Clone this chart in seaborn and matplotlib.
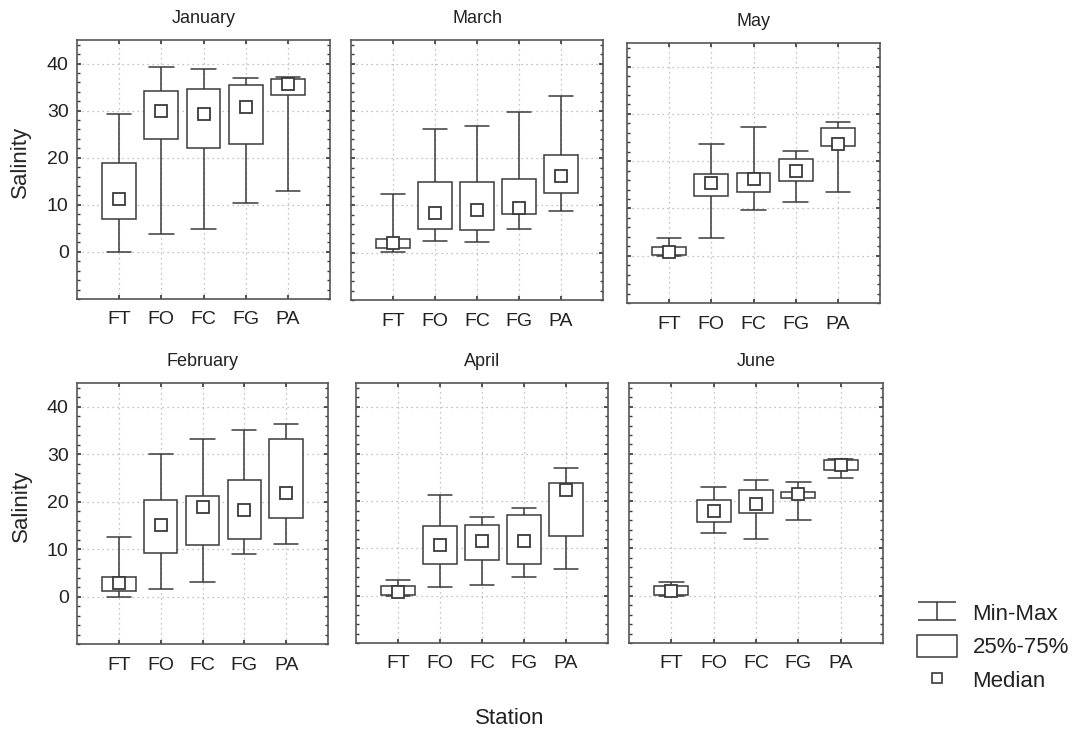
import numpy as np
import pandas as pd
import matplotlib
matplotlib.use("Agg")
import matplotlib.pyplot as plt
import seaborn as sns
from matplotlib.path import Path
from matplotlib.lines import Line2D
from matplotlib.patches import Patch
from matplotlib.ticker import MultipleLocator

# stations on the x axis
stations = ["FT", "FO", "FC", "FG", "PA"]

# five-number summary per station: (min, q25, median, q75, max)
january = [(0.0, 6.9, 11.2, 18.8, 29.2), (3.7, 23.9, 29.9, 34.1, 39.2),
           (4.9, 22.1, 29.3, 34.7, 38.9), (10.3, 22.9, 30.8, 35.4, 37.0),
           (13.0, 33.4, 35.7, 36.7, 37.2)]
march = [(0.2, 1.0, 2.0, 3.0, 12.4), (2.4, 5.0, 8.3, 14.9, 26.1),
         (2.3, 4.8, 9.0, 15.0, 26.8), (5.0, 8.1, 9.4, 15.7, 29.8),
         (8.9, 12.7, 16.3, 20.7, 33.1)]
may = [(0.0, 0.2, 0.8, 1.9, 3.8), (3.7, 12.7, 15.4, 17.3, 23.6),
       (9.6, 13.5, 16.3, 17.6, 27.2), (11.3, 15.8, 18.0, 20.4, 22.2),
       (13.5, 23.2, 23.6, 27.1, 28.3)]
february = [(0.0, 1.1, 2.8, 4.2, 12.5), (1.5, 9.2, 15.1, 20.4, 30.0),
            (3.0, 10.8, 18.9, 21.2, 33.2), (9.0, 12.1, 18.3, 24.6, 35.0),
            (11.1, 16.6, 21.8, 33.2, 36.4)]
april = [(0.0, 0.1, 0.8, 2.0, 3.3), (1.9, 6.8, 10.7, 14.7, 21.3),
         (2.3, 7.5, 11.6, 15.0, 16.6), (3.9, 6.8, 11.5, 17.1, 18.5),
         (5.6, 12.7, 22.3, 23.9, 27.1)]
june = [(0.0, 0.1, 0.9, 2.0, 2.9), (13.2, 15.6, 18.0, 20.3, 22.9),
        (11.9, 17.5, 19.4, 22.3, 24.5), (16.1, 20.7, 21.5, 21.9, 24.0),
        (24.8, 26.5, 27.6, 28.7, 29.0)]

panels = [("January", january), ("March", march), ("May", may),
          ("February", february), ("April", april), ("June", june)]

# axes boxes in pixels (left, top, right, bottom) of a 1076x735 figure
boxes = [(77, 40, 330, 299), (351, 40, 603, 300), (627, 43, 880, 303),
         (77, 383, 328, 644), (356, 383, 608, 643), (629, 383, 883, 643)]

W, H = 1076, 735
dark = "#3a3a3a"

sns.set_theme(style="ticks")
plt.rcParams["font.family"] = ["Liberation Sans", "DejaVu Sans"]
plt.rcParams["text.color"] = "#222222"

fig = plt.figure(figsize=(W / 100, H / 100), dpi=100)

for i, ((name, summ), (l, t, r, b)) in enumerate(zip(panels, boxes)):
    ax = fig.add_axes([l / W, 1 - b / H, (r - l) / W, (b - t) / H])
    rows = []
    for st, vals in zip(stations, summ):
        for v in vals:
            rows.append({"station": st, "salinity": v})
    d = pd.DataFrame(rows)

    sns.boxplot(data=d, x="station", y="salinity", order=stations,
                whis=(0, 100), width=0.8, color="white", linecolor=dark,
                linewidth=1.1, showfliers=False, capwidths=0.58,
                medianprops={"visible": False}, ax=ax, zorder=3)
    sns.pointplot(data=d, x="station", y="salinity", order=stations,
                  estimator="median", errorbar=None, linestyle="none",
                  marker="s", markersize=9, markerfacecolor="white",
                  markeredgecolor=dark, markeredgewidth=1.3, color=dark,
                  ax=ax, zorder=5)

    ax.set_xlim(-1, 5)
    ax.set_ylim(-10, 45)
    ax.set_yticks([0, 10, 20, 30, 40])
    ax.yaxis.set_minor_locator(MultipleLocator(2))
    ax.set_axisbelow(True)
    ax.grid(True, which="major", linestyle=(0, (1, 3)), color="#b0b0b0", linewidth=0.9)
    ax.tick_params(which="both", direction="in", top=True, right=True,
                   colors=dark, labelcolor="#222222", labelsize=14)
    ax.tick_params(axis="x", which="major", length=3, pad=9)
    ax.tick_params(axis="y", which="major", length=3, pad=6)
    ax.tick_params(axis="y", which="minor", length=2)
    for sp in ax.spines.values():
        sp.set_color("#555555")
        sp.set_linewidth(1.2)
    ax.set_xlabel("")
    ax.set_title(name, fontsize=13, pad=12)
    if i % 3 == 0:
        ax.set_ylabel("Salinity", fontsize=16)
        ax.yaxis.set_label_coords(-0.18, 0.53)
    else:
        ax.set_ylabel("")
        ax.tick_params(axis="y", labelleft=False)

fig.text(510 / W, 1 - 718 / H, "Station", ha="center", va="center", fontsize=16)

# legend: min-max whisker glyph, box, median square
ibeam = Path([(-1, 0.5), (1, 0.5), (0, 0.5), (0, -0.5), (-1, -0.5), (1, -0.5)],
             [Path.MOVETO, Path.LINETO, Path.MOVETO, Path.LINETO, Path.MOVETO, Path.LINETO])
handles = [
    Line2D([], [], marker=ibeam, linestyle="none", markersize=27,
           markeredgecolor=dark, markerfacecolor="none", markeredgewidth=1.1),
    Patch(facecolor="white", edgecolor=dark, linewidth=1.1),
    Line2D([], [], marker="s", linestyle="none", markersize=7.5,
           markerfacecolor="white", markeredgecolor=dark, markeredgewidth=1.2),
]
fig.legend(handles, ["Min-Max", "25%-75%", "Median"], loc="upper left",
           bbox_to_anchor=(917 / W, 1 - 602 / H), frameon=False, fontsize=16,
           handlelength=1.8, handleheight=1.1, handletextpad=0.7,
           labelspacing=0.45, borderpad=0, borderaxespad=0)

fig.savefig("out.png", dpi=100)
